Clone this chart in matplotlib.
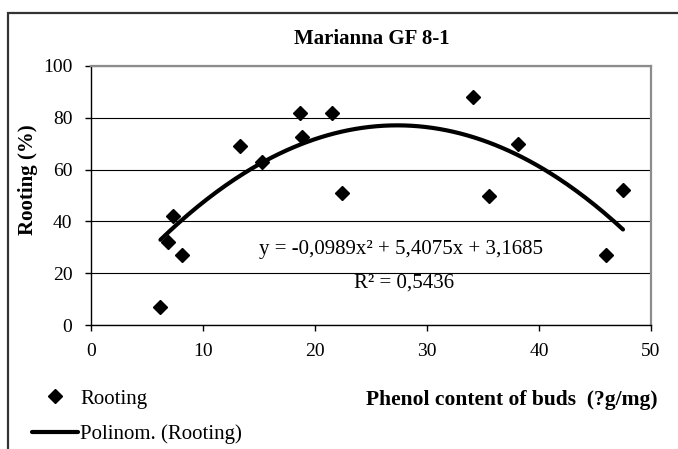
import numpy as np
import matplotlib
matplotlib.use("Agg")
import matplotlib.pyplot as plt
from matplotlib.patches import Rectangle

plt.rcParams['font.family'] = ['Liberation Serif', 'DejaVu Serif']

# ---- data ----
phenol = [6.2, 6.9, 7.3, 8.1, 13.3, 15.3, 18.7, 18.8, 21.5, 22.4, 34.1, 35.5, 38.1, 46.0, 47.5]
rooting = [7, 32, 42, 27, 69, 63, 82, 72.6, 82, 51, 88, 50, 70, 27, 52]
trend_coef = [-0.0989, 5.4075, 3.1685]
r_squared = "0,5436"
x_ticks = [0, 10, 20, 30, 40, 50]
y_ticks = [0, 20, 40, 60, 80, 100]
title = "Marianna GF 8-1"
xlabel = "Phenol content of buds  (?g/mg)"
ylabel = "Rooting (%)"
series_label = "Rooting"
trend_label = "Polinom. (Rooting)"

W, H = 678, 449
fig = plt.figure(figsize=(W / 100, H / 100), dpi=100)

# outer chart border (cut by the image edges on the right and bottom)
fig.add_artist(Rectangle((8 / W, -0.1), 1.2, 1 - 13 / H + 0.1, transform=fig.transFigure,
                         fill=False, edgecolor='#333333', linewidth=1.6))

ax = fig.add_axes([91 / W, 1 - 325 / H, (651 - 91) / W, (325 - 66) / H])
ax.set_xlim(0, 50)
ax.set_ylim(0, 100)
ax.set_xticks(x_ticks)
ax.set_yticks(y_ticks)
ax.tick_params(axis='both', direction='out', length=4.5, width=1, labelsize=14, colors='black')
ax.tick_params(axis='y', pad=9)
ax.tick_params(axis='x', pad=8.5)

for s in ['left', 'bottom']:
    ax.spines[s].set_color('black')
    ax.spines[s].set_linewidth(1.0)
for s in ['top', 'right']:
    ax.spines[s].set_color('#8c8c8c')
    ax.spines[s].set_linewidth(1.6)

ax.yaxis.grid(True, color='black', linewidth=0.8)
ax.set_axisbelow(True)

sc, = ax.plot(phenol, rooting, linestyle='none', marker='D', markersize=7.5,
              color='black', label=series_label, zorder=3)
xs = np.linspace(min(phenol), max(phenol), 200)
tl, = ax.plot(xs, np.polyval(trend_coef, xs), color='black', linewidth=3.0,
              solid_capstyle='round', label=trend_label, zorder=2)


def fmt(v):
    return "{:.4f}".format(v).replace(".", ",")


eq = "y = " + fmt(trend_coef[0]) + "x² + " + fmt(trend_coef[1]) + "x + " + fmt(trend_coef[2])
ax.text(27.7, 29.1, eq, ha='center', va='center', fontsize=15)
ax.text(27.95, 16.3, "R² = " + r_squared, ha='center', va='center', fontsize=15)

fig.text(372 / W, 1 - 39 / H, title, ha='center', va='center', fontsize=15, fontweight='bold')
fig.text(28 / W, 1 - 180 / H, ylabel, ha='center', va='center', rotation=90,
         fontsize=15, fontweight='bold')
fig.text(658 / W, 1 - 400 / H, xlabel, ha='right', va='center', fontsize=15.5, fontweight='bold')

fig.legend(handles=[sc, tl], loc='upper left', bbox_to_anchor=(32 / W, 1 - 389 / H),
           frameon=False, fontsize=15, handlelength=2.2, handletextpad=0.1,
           borderpad=0, borderaxespad=0, labelspacing=0.75)

fig.savefig("out.png", dpi=100)
